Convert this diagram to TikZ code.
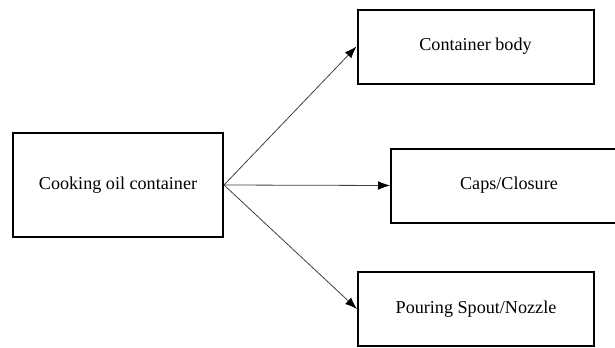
\documentclass[tikz,border=0pt]{standalone}
\usepackage{fontspec}
\setmainfont{Liberation Serif}
\usetikzlibrary{arrows.meta, positioning}

\tikzset{
    partbox/.style={draw=black, line width=1.5pt, minimum width=#1, minimum height=55.5pt, inner sep=0pt, font=\fontsize{13.6}{16}\selectfont},
    partbox/.default=177pt,
    link/.style={draw=black!75, line width=0.6pt, -{Latex[black, length=9pt, width=6.5pt]}}
}

\begin{document}
\begin{tikzpicture}[x=0.75pt, y=-0.75pt]
    \useasboundingbox (0,0) rectangle (615,347);

    % Main item on the left
    \node[partbox=157.5pt, minimum height=78pt] (oil) at (118,185) {Cooking oil container};

    % Components on the right
    \node[partbox] (body) at (475.5,46.5) {Container body};
    \node[partbox] (caps) at (509,185.5) {Caps/Closure};
    \node[partbox] (spout) at (476,309) {Pouring Spout/Nozzle};

    % Arrows from the container to each part
    \draw[link] (oil.east) -- (body.west);
    \draw[link] (oil.east) -- (caps.west);
    \draw[link] (oil.east) -- (spout.west);
\end{tikzpicture}
\end{document}
